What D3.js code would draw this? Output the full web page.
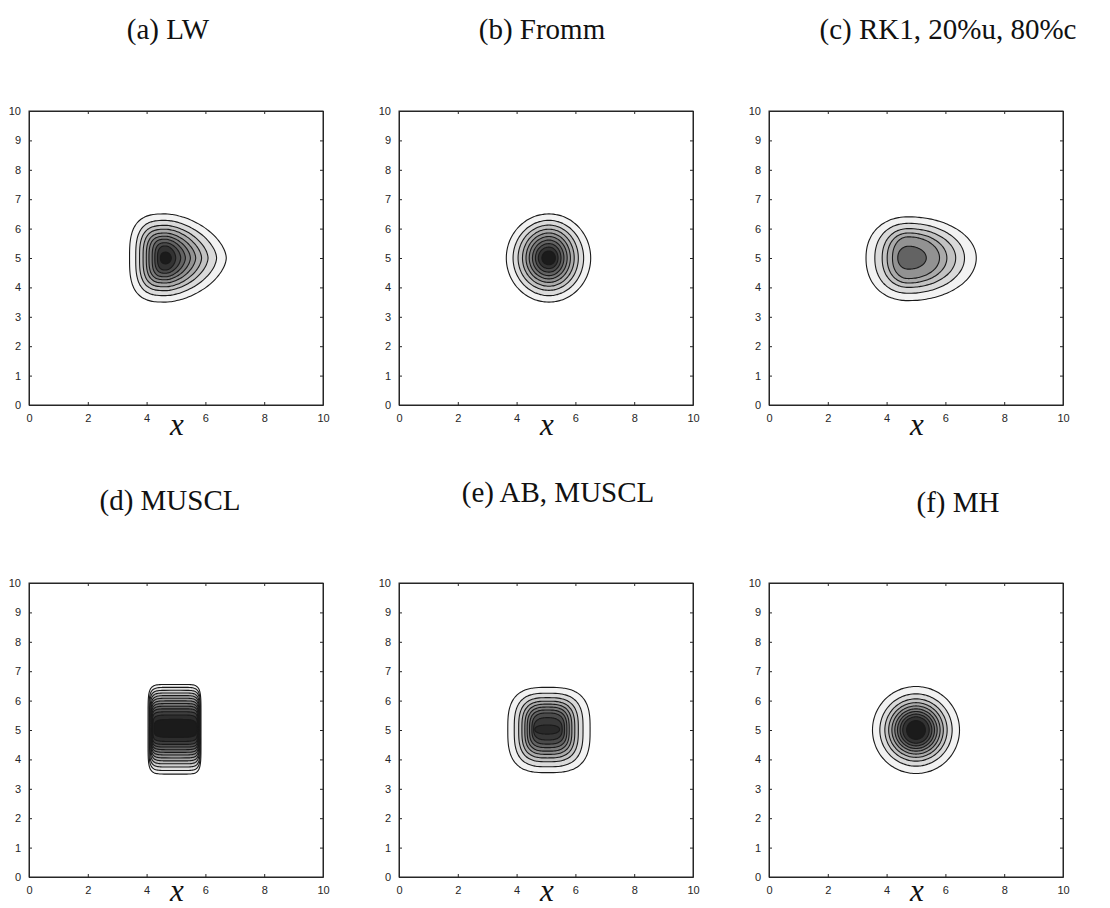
<!DOCTYPE html>
<html>
<head>
<meta charset="utf-8">
<script src="https://cdn.jsdelivr.net/npm/d3@7"></script>
<style>
  body { margin: 0; background: #fff; }
  svg { display: block; }
  .title { font-family: "Liberation Serif", serif; font-size: 29px; fill: #111; }
  .xlab { font-family: "Liberation Serif", serif; font-style: italic; font-size: 31px; fill: #111; }
</style>
</head>
<body>
<svg id="chart" width="1110" height="908"></svg>
<script>
// panel titles
const titles = ["(a) LW", "(b) Fromm", "(c) RK1, 20%u, 80%c",
                "(d) MUSCL", "(e) AB, MUSCL", "(f) MH"];

// axis ticks
const xTicks = [0, 2, 4, 6, 8, 10];
const yTicks = [0, 1, 2, 3, 4, 5, 6, 7, 8, 9, 10];

// peak location of each solution
const peakX = [4.65, 5.1, 4.75, 5.0, 5.05, 5.0];
const peakY = [5.0, 5.0, 5.0, 5.05, 5.02, 5.0];

// contour rings, outermost first: [xLeft, xRight, yBottom, yTop]
const ringsLW = [
  [3.42, 6.71, 3.50, 6.50], [3.63, 6.38, 3.72, 6.28], [3.76, 6.09, 3.89, 6.11],
  [3.88, 5.87, 4.02, 5.98], [3.99, 5.67, 4.15, 5.85], [4.08, 5.49, 4.26, 5.74],
  [4.19, 5.32, 4.36, 5.64], [4.28, 5.16, 4.48, 5.52], [4.37, 4.99, 4.59, 5.41],
  [4.47, 4.84, 4.80, 5.20]
];
const ringsFromm = [
  [3.65, 6.52, 3.50, 6.50], [3.88, 6.28, 3.72, 6.28], [4.05, 6.10, 3.90, 6.12],
  [4.20, 5.96, 4.04, 5.98], [4.32, 5.83, 4.17, 5.85], [4.43, 5.72, 4.29, 5.73],
  [4.54, 5.61, 4.40, 5.61], [4.64, 5.51, 4.52, 5.49], [4.74, 5.41, 4.64, 5.37],
  [4.86, 5.32, 4.77, 5.24]
];
const ringsRK1 = [
  [3.30, 7.05, 3.55, 6.40], [3.60, 6.65, 3.80, 6.18], [3.85, 6.35, 4.00, 6.00],
  [4.02, 6.05, 4.15, 5.85], [4.20, 5.80, 4.30, 5.72], [4.38, 5.35, 4.62, 5.40]
];
const ringsMUSCL = [
  [4.05, 5.85, 3.50, 6.55], [4.08, 5.83, 3.62, 6.45], [4.10, 5.82, 3.74, 6.35],
  [4.12, 5.80, 3.85, 6.26], [4.14, 5.79, 3.95, 6.17], [4.15, 5.78, 4.05, 6.08],
  [4.16, 5.77, 4.15, 5.99], [4.17, 5.76, 4.24, 5.90], [4.18, 5.75, 4.33, 5.81],
  [4.19, 5.74, 4.42, 5.72], [4.20, 5.73, 4.51, 5.62], [4.22, 5.72, 4.61, 5.51],
  [4.26, 5.70, 4.75, 5.36]
];
const ringsAB = [
  [3.70, 6.50, 3.55, 6.45], [3.92, 6.26, 3.75, 6.25], [4.07, 6.10, 3.92, 6.10],
  [4.18, 5.98, 4.05, 5.98], [4.28, 5.88, 4.17, 5.88], [4.36, 5.79, 4.28, 5.78],
  [4.44, 5.71, 4.40, 5.68], [4.52, 5.63, 4.52, 5.58], [4.58, 5.55, 4.66, 5.42],
  [4.62, 5.46, 4.86, 5.17]
];
const ringsMH = [
  [3.52, 6.48, 3.52, 6.48], [3.77, 6.23, 3.77, 6.23], [3.94, 6.06, 3.94, 6.06],
  [4.07, 5.93, 4.07, 5.93], [4.18, 5.82, 4.18, 5.82], [4.28, 5.72, 4.28, 5.72],
  [4.37, 5.63, 4.37, 5.63], [4.46, 5.54, 4.46, 5.54], [4.55, 5.45, 4.55, 5.45],
  [4.68, 5.32, 4.68, 5.32]
];
const panelRings = [ringsLW, ringsFromm, ringsRK1, ringsMUSCL, ringsAB, ringsMH];

// contour level of each ring (1 = lowest, 10 = highest), read from the fill shade
const levelsLW = [1, 2, 3, 4, 5, 6, 7, 8, 9, 10];
const levelsFromm = [1, 2, 3, 4, 5, 6, 7, 8, 9, 10];
const levelsRK1 = [1, 2, 3, 4, 5, 7];
const levelsMUSCL = [1, 1.75, 2.5, 3.25, 4, 4.75, 5.5, 6.25, 7, 7.75, 8.5, 9.25, 10];
const levelsAB = [1, 2, 3, 4, 5, 6, 7, 8, 8.8, 9.4];
const levelsMH = [1, 2, 3, 4, 5, 6, 7, 8, 9, 10];
const panelLevels = [levelsLW, levelsFromm, levelsRK1, levelsMUSCL, levelsAB, levelsMH];

// ring shape: squareness on the left and right side (2 = ellipse)
const shapeLeft = [3.0, 2.0, 2.2, 7.0, 3.0, 2.0];
const shapeRight = [1.7, 2.0, 2.0, 7.0, 3.0, 2.0];

// ---------------------------
// layout
// ---------------------------
const size = 294;
const colX = [29, 399, 769];
const rowY = [111, 583];
const titleX = [168, 542, 948, 170, 558, 958];
const titleY = [39, 39, 39, 510, 502, 512];
const xLabelGap = [30, 24];

const svg = d3.select("#chart");

const grayFor = d3.scaleLinear().domain([1, 10]).range(["#f2f2f2", "#1b1b1b"]).clamp(true);

function ringPath(ring, cx, cy, nL, nR, x, y) {
  const [x0, x1, y0, y1] = ring;
  // small inner rings are rounder than the outer ones
  const round = Math.min(1, (y1 - y0) / 1.2);
  const eL = 2 + (nL - 2) * round, eR = 2 + (nR - 2) * round;
  const pts = d3.range(0, 360, 3).map(deg => {
    const t = deg * Math.PI / 180;
    const c = Math.cos(t), s = Math.sin(t);
    const n = c >= 0 ? eR : eL;
    const rx = c >= 0 ? x1 - cx : cx - x0;
    const ry = s >= 0 ? y1 - cy : cy - y0;
    const px = cx + rx * Math.sign(c) * Math.pow(Math.abs(c), 2 / n);
    const py = cy + ry * Math.sign(s) * Math.pow(Math.abs(s), 2 / n);
    return [x(px), y(py)];
  });
  return d3.line().curve(d3.curveCardinalClosed.tension(0.2))(pts);
}

titles.forEach((title, i) => {
  const row = Math.floor(i / 3);
  const left = colX[i % 3];
  const top = rowY[row];
  const x = d3.scaleLinear().domain([0, 10]).range([left, left + size]);
  const y = d3.scaleLinear().domain([0, 10]).range([top + size, top]);

  const g = svg.append("g");

  // filled contours, outermost first
  const rings = panelRings[i];
  const levels = panelLevels[i];
  rings.forEach((ring, k) => {
    g.append("path")
      .attr("d", ringPath(ring, peakX[i], peakY[i], shapeLeft[i], shapeRight[i], x, y))
      .attr("fill", grayFor(levels[k]))
      .attr("stroke", "#1a1a1a")
      .attr("stroke-width", 1.1);
  });

  // axes with inward ticks on all four sides
  const axes = g.append("g");
  axes.append("g")
    .attr("transform", `translate(0,${top + size})`)
    .call(d3.axisBottom(x).tickValues(xTicks).tickSizeInner(-3).tickSizeOuter(0).tickPadding(9));
  axes.append("g")
    .attr("transform", `translate(${left},0)`)
    .call(d3.axisLeft(y).tickValues(yTicks).tickSizeInner(-3).tickSizeOuter(0).tickPadding(8));
  axes.append("g")
    .attr("transform", `translate(0,${top})`)
    .call(d3.axisTop(x).tickValues(xTicks).tickSizeInner(-3).tickSizeOuter(0).tickFormat(""));
  axes.append("g")
    .attr("transform", `translate(${left + size},0)`)
    .call(d3.axisRight(y).tickValues(yTicks).tickSizeInner(-3).tickSizeOuter(0).tickFormat(""));

  axes.selectAll(".domain").attr("stroke", "#262626");
  axes.selectAll(".tick line").attr("stroke", "#262626");
  axes.selectAll(".tick text")
    .style("font-family", "'Liberation Sans', Arial, sans-serif")
    .style("font-size", "11px")
    .attr("fill", "#262626");

  // frame
  g.append("rect")
    .attr("x", left).attr("y", top)
    .attr("width", size).attr("height", size)
    .attr("fill", "none").attr("stroke", "#262626").attr("stroke-width", 1);

  g.append("text").attr("class", "xlab")
    .attr("x", left + size / 2 + 1).attr("y", top + size + xLabelGap[row])
    .attr("text-anchor", "middle")
    .text("x");

  svg.append("text").attr("class", "title")
    .attr("x", titleX[i]).attr("y", titleY[i])
    .attr("text-anchor", "middle")
    .text(title);
});
</script>
</body>
</html>
